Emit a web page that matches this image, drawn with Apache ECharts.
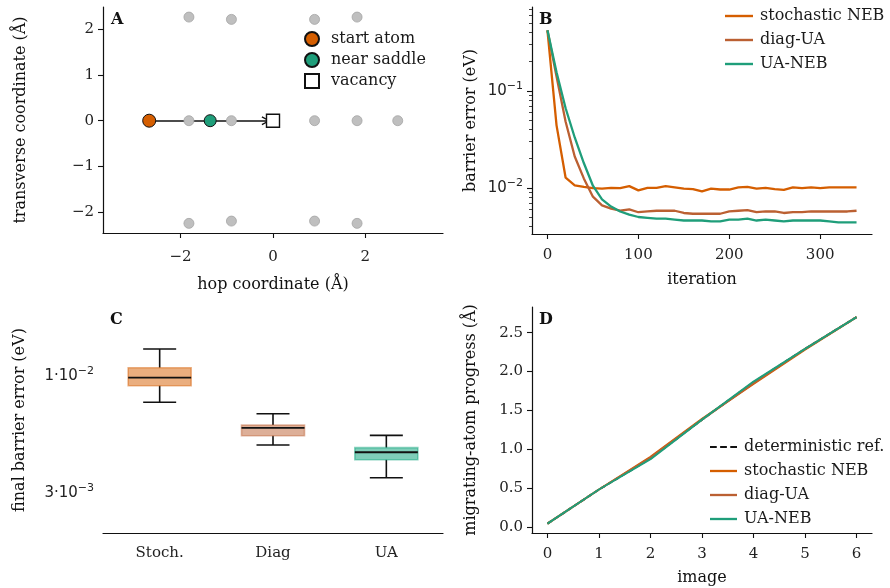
<!DOCTYPE html>
<html>
<head>
<meta charset="utf-8">
<script src="https://cdn.jsdelivr.net/npm/echarts@6/dist/echarts.min.js"></script>
<style>
html, body { margin: 0; padding: 0; background: #fff; }
#chart { width: 890px; height: 588px; }
</style>
</head>
<body>
<div id="chart"></div>
<script>
// --- A: lattice around the hop ---
var latticeX = [-1.82, -0.9, 0.9, 1.82, -1.82, -0.9, 0.9, 1.82, 2.7, -1.82, -0.9, 0.9, 1.82];
var latticeY = [2.26, 2.21, 2.21, 2.26, 0, 0, 0, 0, 0, -2.24, -2.19, -2.19, -2.24];
var startAtom = [-2.68, 0];
var nearSaddle = [-1.36, 0];
var vacancy = [0, 0];
var arrowEnd = [-0.15, 0];

// --- B: barrier error vs iteration ---
var iterations = [0, 10, 20, 30, 40, 50, 60, 70, 80, 90, 100, 110, 120, 130, 140, 150, 160, 170,
	180, 190, 200, 210, 220, 230, 240, 250, 260, 270, 280, 290, 300, 310, 320, 330, 340];
var stochErr = [0.42, 0.044, 0.0127, 0.0106, 0.0102, 0.0099, 0.0098, 0.0100, 0.0099, 0.0104, 0.0094, 0.0100,
	0.0100, 0.0104, 0.0101, 0.0098, 0.0097, 0.0092, 0.0098, 0.0096, 0.0096, 0.0101, 0.0102, 0.0098, 0.0100,
	0.0097, 0.0095, 0.0101, 0.0099, 0.0101, 0.0099, 0.0101, 0.0101, 0.0101, 0.0101];
var diagErr = [0.42, 0.14, 0.048, 0.021, 0.0125, 0.0081, 0.0066, 0.0061, 0.0058, 0.0060, 0.0056, 0.0057,
	0.0058, 0.0058, 0.0058, 0.0055, 0.0054, 0.0054, 0.0054, 0.0054, 0.0057, 0.0058, 0.0059, 0.0056, 0.0057,
	0.0057, 0.0055, 0.0056, 0.0056, 0.0057, 0.0057, 0.0057, 0.0057, 0.0057, 0.0058];
var uaErr = [0.42, 0.155, 0.066, 0.033, 0.018, 0.0105, 0.0076, 0.0064, 0.0057, 0.0053, 0.0050, 0.0049,
	0.0048, 0.0048, 0.0047, 0.0046, 0.0046, 0.0046, 0.0045, 0.0045, 0.0047, 0.0047, 0.0048, 0.0046, 0.0047,
	0.0046, 0.0045, 0.0046, 0.0046, 0.0046, 0.0046, 0.0045, 0.0044, 0.0044, 0.0044];

// --- C: final barrier error boxes ---
var boxCategories = ['Stoch.', 'Diag', 'UA'];
var boxLow = [0.00762, 0.00492, 0.00352];
var boxQ1 = [0.00903, 0.00541, 0.00423];
var boxMedian = [0.0098, 0.00586, 0.00457];
var boxQ3 = [0.01085, 0.00604, 0.00479];
var boxHigh = [0.01314, 0.00678, 0.00543];

// --- D: migrating-atom progress ---
var images = [0, 1, 2, 3, 4, 5, 6];
var refProgress = [0.04, 0.48, 0.88, 1.38, 1.86, 2.29, 2.70];
var stochProgress = [0.04, 0.48, 0.90, 1.39, 1.84, 2.28, 2.70];
var diagProgress = [0.04, 0.48, 0.89, 1.38, 1.85, 2.29, 2.70];
var uaProgress = [0.04, 0.48, 0.87, 1.38, 1.87, 2.29, 2.70];

// tick positions
var ticksAx = [-2, 0, 2];
var ticksAy = [-2, -1, 0, 1, 2];
var ticksBx = [0, 100, 200, 300];
var ticksBy = [0.01, 0.1];
var minorBy = [0.004, 0.005, 0.006, 0.007, 0.008, 0.009, 0.02, 0.03, 0.04, 0.05, 0.06, 0.07, 0.08, 0.09,
	0.2, 0.3, 0.4, 0.5, 0.6, 0.7];
var ticksCy = [0.003, 0.01];
var minorCy = [0.004, 0.005, 0.006, 0.007, 0.008, 0.009, 0.02];
var ticksDx = [0, 1, 2, 3, 4, 5, 6];
var ticksDy = [0, 0.5, 1, 1.5, 2, 2.5];

var cStoch = '#d55e00', cDiag = '#bb6032', cUA = '#1f9e7a';
var boxColors = ['213,94,0', '188,96,50', '0,158,115'];
var serif = 'DejaVu Serif';
var lineIcon = 'path://M0,0H28V2.4H0Z';
var dashIcon = 'path://M0,0H7V2.2H0Z M10.5,0H17.5V2.2H10.5Z M21,0H28V2.2H21Z';

function zip(a, b) {
	return a.map(function (v, i) { return [v, b[i]]; });
}
function minus(v) {
	return String(v).replace('-', '\u2212');
}
function valAxis(grid, min, max, ticks, name, gap, fmt, margin) {
	return {
		type: 'value', gridIndex: grid, min: min, max: max,
		name: name, nameLocation: 'middle', nameGap: gap,
		nameTextStyle: { fontFamily: serif, fontSize: 16, color: '#111' },
		axisLine: { onZero: false, lineStyle: { color: '#111', width: 1.2 } },
		axisTick: { customValues: ticks, length: 5, lineStyle: { color: '#111', width: 1.1 } },
		axisLabel: { customValues: ticks, fontFamily: serif, fontSize: 15, color: '#222', margin: margin || 9, formatter: fmt || minus },
		splitLine: { show: false }
	};
}
function logAxis(grid, min, max, ticks, name, gap, fmt) {
	var ax = valAxis(grid, min, max, ticks, name, gap, fmt);
	ax.type = 'log';
	ax.logBase = 10;
	ax.axisLabel.rich = {
		m: { fontFamily: 'DejaVu Sans', fontSize: 15, color: '#222' },
		s: { fontFamily: 'DejaVu Sans', fontSize: 11, color: '#222', padding: [0, 0, 10, 0] }
	};
	return ax;
}
function minorAxis(grid, min, max, ticks) {
	return {
		type: 'log', logBase: 10, gridIndex: grid, min: min, max: max, position: 'left',
		axisLine: { show: false, onZero: false },
		axisTick: { customValues: ticks, length: 3, lineStyle: { color: '#111', width: 0.8 } },
		axisLabel: { show: false },
		splitLine: { show: false }
	};
}

function renderBox(params, api) {
	var i = api.value(0);
	var lo = api.coord([i, api.value(1)]);
	var q1 = api.coord([i, api.value(2)]);
	var md = api.coord([i, api.value(3)]);
	var q3 = api.coord([i, api.value(4)]);
	var hi = api.coord([i, api.value(5)]);
	var x = md[0], hb = 31.5, hc = 16.5;
	var col = boxColors[params.dataIndex];
	var blk = { stroke: '#111', lineWidth: 1.6 };
	return {
		type: 'group',
		children: [
			{ type: 'line', shape: { x1: x, y1: lo[1], x2: x, y2: q1[1] }, style: blk },
			{ type: 'line', shape: { x1: x, y1: q3[1], x2: x, y2: hi[1] }, style: blk },
			{ type: 'line', shape: { x1: x - hc, y1: lo[1], x2: x + hc, y2: lo[1] }, style: blk },
			{ type: 'line', shape: { x1: x - hc, y1: hi[1], x2: x + hc, y2: hi[1] }, style: blk },
			{ type: 'rect', shape: { x: x - hb, y: q3[1], width: 2 * hb, height: q1[1] - q3[1] },
				style: { fill: 'rgba(' + col + ',0.5)', stroke: 'rgba(' + col + ',0.45)', lineWidth: 1.6 } },
			{ type: 'line', shape: { x1: x - hb, y1: md[1], x2: x + hb, y2: md[1] }, style: { stroke: '#111', lineWidth: 1.8 } }
		]
	};
}

var chart = echarts.init(document.getElementById('chart'));
var lineCommon = { type: 'line', showSymbol: false, symbol: 'none' };
var legendText = { fontFamily: serif, fontSize: 16, color: '#1a1a1a', padding: [0, 0, 0, 2] };

var option = {
	animation: false,
	backgroundColor: '#fff',
	grid: [
		{ left: 103, top: 7, width: 340, height: 226 },
		{ left: 532, top: 7, width: 340, height: 227 },
		{ left: 103, top: 307, width: 340, height: 226 },
		{ left: 532, top: 307, width: 340, height: 226 }
	],
	xAxis: [
		valAxis(0, -3.68, 3.68, ticksAx, 'hop coordinate (Å)', 44, null, 17),
		valAxis(1, -17, 357, ticksBx, 'iteration', 38, null, 14),
		{
			type: 'category', gridIndex: 2, data: boxCategories,
			axisLine: { lineStyle: { color: '#111', width: 1.2 } },
			axisTick: { alignWithLabel: true, length: 5, lineStyle: { color: '#111', width: 1.1 } },
			axisLabel: { fontFamily: serif, fontSize: 15, color: '#222', margin: 13 }
		},
		valAxis(3, -0.3, 6.3, ticksDx, 'image', 37, null, 14)
	],
	yAxis: [
		valAxis(0, -2.45, 2.48, ticksAy, 'transverse coordinate (Å)', 74),
		logAxis(1, 0.00334, 0.73, ticksBy, 'barrier error (eV)', 53, function (v) {
			return v > 0.05 ? '{m|10}{s|\u22121}' : '{m|10}{s|\u22122}';
		}),
		minorAxis(1, 0.00334, 0.73, minorBy),
		logAxis(2, 0.002, 0.0202, ticksCy, 'final barrier error (eV)', 75, function (v) {
			return v > 0.005 ? '{m|1\u00B710}{s|\u22122}' : '{m|3\u00B710}{s|\u22123}';
		}),
		minorAxis(2, 0.002, 0.0202, minorCy),
		valAxis(3, -0.08, 2.83, ticksDy, 'migrating-atom progress (Å)', 53, function (v) { return v.toFixed(1); })
	],
	legend: [
		{
			left: 299, top: 26, orient: 'vertical', itemWidth: 28, itemHeight: 14, itemGap: 5,
			textStyle: { fontFamily: serif, fontSize: 16, color: '#1a1a1a' },
			data: [
				{ name: 'start atom', icon: 'circle' },
				{ name: 'near saddle', icon: 'circle' },
				{ name: 'vacancy', icon: 'path://M0,0H10V10H0Z' }
			]
		},
		{
			left: 720, top: 3, orient: 'vertical', itemWidth: 28, itemHeight: 14, itemGap: 8,
			textStyle: legendText,
			data: [
				{ name: 'stochastic NEB', icon: lineIcon },
				{ name: 'diag-UA', icon: lineIcon },
				{ name: 'UA-NEB', icon: lineIcon }
			]
		},
		{
			left: 705, top: 434, orient: 'vertical', itemWidth: 27, itemHeight: 14, itemGap: 8,
			textStyle: legendText,
			data: [
				{ name: 'deterministic ref.', icon: dashIcon },
				{ name: 'stochastic NEB', icon: lineIcon },
				{ name: 'diag-UA', icon: lineIcon },
				{ name: 'UA-NEB', icon: lineIcon }
			]
		}
	],
	graphic: [
		{ type: 'text', left: 111, top: 12, style: { text: 'A', font: 'bold 16px "DejaVu Serif"', fill: '#111' } },
		{ type: 'text', left: 539, top: 12, style: { text: 'B', font: 'bold 16px "DejaVu Serif"', fill: '#111' } },
		{ type: 'text', left: 110, top: 312, style: { text: 'C', font: 'bold 16px "DejaVu Serif"', fill: '#111' } },
		{ type: 'text', left: 539, top: 312, style: { text: 'D', font: 'bold 16px "DejaVu Serif"', fill: '#111' } }
	],
	series: [
		{
			name: 'lattice', type: 'scatter', xAxisIndex: 0, yAxisIndex: 0,
			symbolSize: 10, data: zip(latticeX, latticeY),
			itemStyle: { color: '#bfbfbf', borderColor: '#a5a5a5', borderWidth: 0.8, opacity: 1 }
		},
		{
			name: 'hop', type: 'lines', coordinateSystem: 'cartesian2d', xAxisIndex: 0, yAxisIndex: 0,
			symbol: ['none', 'path://M0,10 L5,0 L10,10 L8.6,10.8 L5,3.2 L1.4,10.8 Z'], symbolSize: 9,
			lineStyle: { color: '#111', width: 1.5, opacity: 1 },
			data: [{ coords: [startAtom, arrowEnd] }]
		},
		{
			name: 'start atom', type: 'scatter', xAxisIndex: 0, yAxisIndex: 0, symbolSize: 13, z: 4,
			data: [startAtom], itemStyle: { color: cStoch, borderColor: '#111', borderWidth: 1, opacity: 1 }
		},
		{
			name: 'near saddle', type: 'scatter', xAxisIndex: 0, yAxisIndex: 0, symbolSize: 12, z: 4,
			data: [nearSaddle], itemStyle: { color: cUA, borderColor: '#111', borderWidth: 1, opacity: 1 }
		},
		{
			name: 'vacancy', type: 'scatter', symbol: 'rect', xAxisIndex: 0, yAxisIndex: 0, symbolSize: 13, z: 4,
			data: [vacancy], itemStyle: { color: '#fff', borderColor: '#111', borderWidth: 1.4, opacity: 1 }
		},
		Object.assign({ name: 'stochastic NEB', xAxisIndex: 1, yAxisIndex: 1, data: zip(iterations, stochErr),
			lineStyle: { color: cStoch, width: 2.3 }, itemStyle: { color: cStoch } }, lineCommon),
		Object.assign({ name: 'diag-UA', xAxisIndex: 1, yAxisIndex: 1, data: zip(iterations, diagErr),
			lineStyle: { color: cDiag, width: 2.3 }, itemStyle: { color: cDiag } }, lineCommon),
		Object.assign({ name: 'UA-NEB', xAxisIndex: 1, yAxisIndex: 1, data: zip(iterations, uaErr),
			lineStyle: { color: cUA, width: 2.3 }, itemStyle: { color: cUA } }, lineCommon),
		{
			name: 'final', type: 'custom', xAxisIndex: 2, yAxisIndex: 3,
			renderItem: renderBox,
			encode: { x: 0, y: [1, 2, 3, 4, 5] },
			data: boxCategories.map(function (c, i) {
				return [i, boxLow[i], boxQ1[i], boxMedian[i], boxQ3[i], boxHigh[i]];
			})
		},
		Object.assign({ name: 'deterministic ref.', xAxisIndex: 3, yAxisIndex: 5, data: zip(images, refProgress),
			lineStyle: { color: '#111', width: 2, type: [5, 3] }, itemStyle: { color: '#111' } }, lineCommon),
		Object.assign({ name: 'stochastic NEB', xAxisIndex: 3, yAxisIndex: 5, data: zip(images, stochProgress),
			lineStyle: { color: cStoch, width: 2 }, itemStyle: { color: cStoch } }, lineCommon),
		Object.assign({ name: 'diag-UA', xAxisIndex: 3, yAxisIndex: 5, data: zip(images, diagProgress),
			lineStyle: { color: cDiag, width: 2 }, itemStyle: { color: cDiag } }, lineCommon),
		Object.assign({ name: 'UA-NEB', xAxisIndex: 3, yAxisIndex: 5, data: zip(images, uaProgress),
			lineStyle: { color: cUA, width: 2 }, itemStyle: { color: cUA } }, lineCommon)
	]
};

chart.setOption(option);
</script>
</body>
</html>
